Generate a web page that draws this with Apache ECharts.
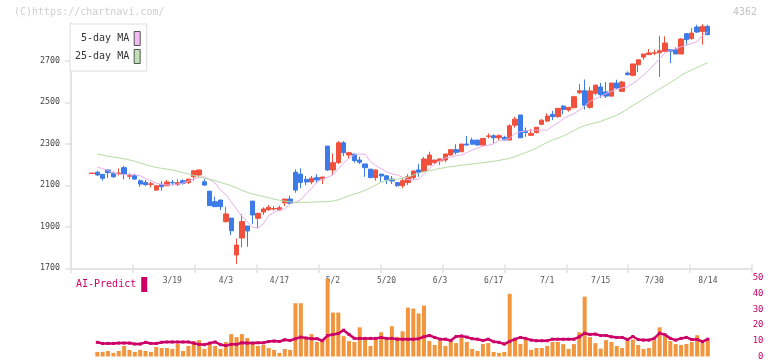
<!DOCTYPE html>
<html>
<head>
<meta charset="utf-8">
<script src="https://cdn.jsdelivr.net/npm/echarts@6.0.0/dist/echarts.min.js"></script>
<style>
html,body{margin:0;padding:0;background:#fff;}
#chart{width:772px;height:361px;}
</style>
</head>
<body>
<div id="chart"></div>
<script>
// ---- data ----
const categories = ['2/26','2/27','2/28','3/3','3/4','3/5','3/6','3/7','3/10','3/11','3/12','3/13','3/14','3/17','3/18','3/19','3/21','3/24','3/25','3/26','3/27','3/28','3/31','4/1','4/2','4/3','4/4','4/7','4/8','4/9','4/10','4/11','4/14','4/15','4/16','4/17','4/18','4/21','4/22','4/23','4/24','4/25','4/28','4/30','5/1','5/2','5/7','5/8','5/9','5/12','5/13','5/14','5/15','5/16','5/19','5/20','5/21','5/22','5/23','5/26','5/27','5/28','5/29','5/30','6/2','6/3','6/4','6/5','6/6','6/9','6/10','6/11','6/12','6/13','6/16','6/17','6/18','6/19','6/20','6/23','6/24','6/25','6/26','6/27','6/30','7/1','7/2','7/3','7/4','7/7','7/8','7/9','7/10','7/11','7/14','7/15','7/16','7/17','7/18','7/22','7/23','7/24','7/25','7/28','7/29','7/30','7/31','8/1','8/4','8/5','8/6','8/7','8/8','8/12','8/13','8/14'];
const dateLabels = ['3/19','4/3','4/17','5/2','5/20','6/3','6/17','7/1','7/15','7/30','8/14'];
const priceTicks = [1700,1900,2100,2300,2500,2700];

const openP = [2157,2163,2153,2174,2158,2157,2185,2144,2146,2122, 2114,2105,2077,2105,2098,2114,2103,2122,2113,2141, 2150,2117,2072,2021,2029,1925,1942,1764,1846,1904, 2024,1941,1971,1982,1986,1981,2016,2034,2163,2154, 2129,2116,2137,2130,2289,2174,2209,2305,2246,2251, 2222,2203,2178,2137,2154,2146,2130,2113,2098,2113, 2137,2174,2166,2198,2209,2217,2222,2246,2272,2262, 2299,2318,2318,2294,2336,2339,2329,2331,2318,2390, 2439,2362,2341,2354,2394,2410,2442,2431,2482,2463, 2474,2546,2556,2476,2544,2574,2550,2530,2593,2553, 2641,2630,2681,2718,2730,2737,2739,2746,2754,2754, 2733,2831,2807,2863,2842,2866];
const closeP = [2159,2150,2134,2161,2141,2159,2155,2146,2130,2106, 2103,2107,2098,2093,2116,2112,2113,2110,2130,2170, 2174,2101,2002,1997,1997,1962,1881,1812,1925,1880, 1957,1965,1986,1994,1988,1992,2034,2013,2077,2114, 2116,2134,2126,2140,2174,2209,2305,2257,2257,2219, 2211,2185,2137,2174,2145,2126,2121,2098,2122,2141, 2169,2163,2227,2246,2222,2227,2251,2272,2259,2299, 2294,2298,2294,2326,2338,2329,2339,2318,2387,2419, 2329,2355,2350,2380,2414,2434,2431,2471,2466,2476, 2527,2556,2486,2555,2583,2537,2530,2593,2569,2598, 2633,2685,2705,2733,2738,2739,2749,2786,2746,2733, 2805,2802,2834,2839,2866,2826];
const lowP = [2157,2145,2122,2135,2135,2147,2129,2130,2126,2093, 2097,2090,2073,2074,2097,2101,2097,2103,2106,2122, 2138,2098,2002,1997,1981,1920,1860,1721,1801,1804, 1913,1893,1957,1978,1978,1978,2000,2010,2064,2086, 2101,2105,2110,2106,2169,2150,2203,2241,2230,2209, 2203,2141,2137,2122,2117,2106,2106,2093,2086,2101, 2126,2141,2166,2198,2203,2198,2211,2243,2249,2259, 2294,2298,2294,2294,2326,2302,2318,2318,2318,2378, 2329,2334,2338,2350,2390,2404,2414,2426,2443,2455, 2471,2540,2465,2469,2534,2521,2521,2530,2565,2550, 2630,2625,2646,2705,2728,2727,2622,2746,2689,2733, 2733,2778,2802,2834,2778,2826];
const highP = [2159,2170,2153,2178,2167,2182,2193,2158,2154,2129, 2126,2117,2101,2121,2126,2126,2129,2129,2130,2170, 2174,2130,2072,2045,2029,1997,1942,1843,1960,1904, 2024,1968,1994,2005,2000,2002,2034,2050,2177,2182, 2145,2145,2154,2140,2289,2254,2313,2313,2262,2251, 2238,2203,2178,2177,2154,2146,2145,2113,2134,2154, 2169,2203,2237,2262,2222,2230,2251,2275,2298,2299, 2338,2329,2318,2326,2350,2346,2346,2339,2394,2431, 2439,2378,2371,2380,2419,2447,2459,2471,2487,2476, 2532,2588,2610,2575,2585,2593,2598,2593,2609,2604, 2649,2685,2705,2733,2757,2754,2821,2818,2754,2765, 2809,2834,2858,2874,2877,2874];

const ma5 = [null, 2188,2180,2172,2160,2153,2152,2153,2152,2146,2133, 2122,2110,2104,2102,2101,2106,2111,2120,2130,2137, 2141,2128,2110,2077,2055,2020,1985,1950,1925,1898, 1894,1915,1955,1970,1982,1987,2010,2020,2030,2060, 2085,2115,2130,2138,2150,2180,2208,2230,2248,2250, 2250,2215,2195,2180,2165,2155,2150,2138,2127,2126, 2130,2155,2180,2203,2218,2232,2236,2242,2246,2258, 2270,2280,2288,2293,2300,2316,2320,2326,2350,2358, 2362,2366,2366,2366,2366,2385,2400,2420,2435,2445, 2462,2482,2505,2518,2528,2542,2553,2563,2570,2575, 2590,2610,2632,2656,2682,2710,2738,2750,2758,2768, 2775,2784,2793,2822,2840];
const ma25 = [null, 2250,2246,2240,2236,2232,2228,2222,2216,2208,2200, 2192,2186,2182,2178,2174,2168,2161,2155,2148,2141, 2135,2129,2122,2114,2106,2098,2088,2076,2066,2058, 2052,2046,2040,2033,2028,2024,2020,2018,2018,2018, 2019,2020,2021,2022,2024,2030,2040,2050,2058,2066, 2076,2088,2102,2115,2124,2128,2130,2134,2140,2150, 2158,2166,2170,2176,2181,2186,2190,2193,2197,2200, 2203,2206,2209,2212,2216,2220,2225,2230,2238,2248, 2258,2268,2280,2294,2306,2318,2328,2338,2350,2364, 2378,2388,2395,2402,2408,2418,2428,2438,2452,2468, 2484,2500,2516,2532,2548,2564,2580,2596,2612,2630, 2644,2656,2668,2680,2691];

const volume = [null, 2.9,2.9,3.5,2.3,3.5,6.7,4.2,2.9,4.2,3.5, 2.9,6.0,5.4,5.4,4.8,7.9,3.5,6.7,9.8,10.4, 4.8,7.9,6.7,4.8,9.2,14.2,12.3,14.2,11.7,7.9, 6.7,7.3,5.4,4.2,2.3,4.8,4.2,33.8,33.8,11.0, 14.2,9.2,11.0,49.2,27.9,27.9,12.9,9.8,9.2,18.5, 11.0,6.7,11.0,15.4,11.0,19.2,12.5,16.0,31.0,30.4, 27.3,32.3,9.8,7.3,10.0,6.7,9.8,8.5,12.0,9.2, 4.8,3.5,7.9,8.5,2.9,2.3,2.9,39.8,11.0,7.9, 11.5,4.2,5.4,5.4,6.7,9.2,9.2,7.9,4.8,7.9, 15.4,38.0,12.3,8.5,5.0,10.4,9.2,6.7,5.4,10.4, 10.8,7.3,4.8,5.4,10.4,18.5,12.9,9.8,7.9,7.3, 7.9,9.2,13.5,8.5,10.4];
const aiPredict = [null, 9.0,8.3,8.3,8.3,8.5,8.5,8.5,7.9,7.9,9.0, 8.3,8.3,9.0,9.2,9.2,9.2,9.2,9.2,8.5,7.7, 7.5,8.5,9.2,7.5,7.0,7.7,7.7,8.7,8.5,8.5, 8.7,8.7,9.5,9.8,9.5,10.6,10.2,11.3,12.3,11.7, 11.3,11.3,10.0,13.3,14.0,14.6,16.7,14.0,11.5,11.5, 11.5,11.5,11.5,12.0,11.5,11.5,11,11,11,11, 11.3,12.5,13.3,12.1,11,11,10.2,12.7,13.0,12.3, 11.3,11,10.2,11,9.4,9.0,7.9,9.6,11.0,12.1, 11.5,10.4,10,10,10,11,11,11,11,11, 12.5,14.8,14.0,14.2,13.3,13.3,12.5,12.1,12.1,10.8, 12.7,10.8,10.4,10.4,11.5,14.8,13.8,11.5,10.4,11.5, 12.1,10.8,10.8,9.4,11.0];

// ---- chart ----
const MONO = '"DejaVu Sans Mono", "Liberation Mono", monospace';
const UP = '#f0503c', DOWN = '#3c7be8';
const AXIS = '#e2e2e2';
const labelSet = new Set(dateLabels);
const candles = categories.map((c, i) => [openP[i], closeP[i], lowP[i], highP[i]]);

const chart = echarts.init(document.getElementById('chart'), null, {renderer: 'canvas'});
chart.setOption({
  animation: false,
  backgroundColor: '#fff',
  title: [
    {text: '(C)https://chartnavi.com/', left: 14, top: 7, padding: 0,
     textStyle: {fontFamily: MONO, fontSize: 10, fontWeight: 'normal', color: '#cfcfcf'}},
    {text: '4362', right: 15, top: 7, padding: 0,
     textStyle: {fontFamily: MONO, fontSize: 10, fontWeight: 'normal', color: '#c4c4c4'}}
  ],
  legend: [
    {
      left: 70, top: 24, orient: 'vertical', align: 'right',
      itemWidth: 6, itemHeight: 14, itemGap: 3,
      padding: [7, 6, 7, 5],
      borderColor: '#dddddd', borderWidth: 1, backgroundColor: '#fff',
      selectedMode: false, icon: 'rect',
      formatter: n => n.padStart(9, ' '),
      textStyle: {fontFamily: MONO, fontSize: 10, color: '#333'},
      data: [
        {name: '5-day MA', itemStyle: {color: '#f2bcf2', borderColor: '#555', borderWidth: 1}},
        {name: '25-day MA', itemStyle: {color: '#bfe0b4', borderColor: '#555', borderWidth: 1}}
      ]
    },
    {
      left: 76, top: 277, orient: 'horizontal', align: 'right',
      itemWidth: 6, itemHeight: 15, padding: 0, selectedMode: false, icon: 'rect',
      textStyle: {fontFamily: MONO, fontSize: 10, color: '#cc0066'},
      data: [{name: 'AI-Predict', itemStyle: {color: '#cc0066'}}]
    }
  ],
  grid: [
    {left: 71, right: 20, top: 23.5, bottom: 92.7},
    {left: 89.3, right: 61.5, top: 23.5, bottom: 92.7},
    {left: 89.3, right: 61.5, top: 277.7, bottom: 3.3}
  ],
  xAxis: [
    {gridIndex: 0, type: 'value', position: 'bottom', min: 0, max: 11, interval: 1,
     axisLine: {show: true, onZero: false, lineStyle: {color: AXIS, width: 2}},
     axisTick: {show: true, length: 5, lineStyle: {color: AXIS, width: 1.5}},
     axisLabel: {show: false}, splitLine: {show: false}},
    {gridIndex: 0, type: 'value', position: 'bottom', min: 0, max: 11, interval: 1,
     axisLine: {show: false, onZero: false},
     axisTick: {show: true, inside: true, length: 4, lineStyle: {color: AXIS, width: 1.5}},
     axisLabel: {show: false}, splitLine: {show: false}},
    {gridIndex: 1, type: 'category', position: 'bottom', data: categories, boundaryGap: true,
     axisLine: {show: false}, axisTick: {show: false}, splitLine: {show: false},
     axisLabel: {show: true, interval: (i, v) => labelSet.has(v), margin: 9,
       fontFamily: MONO, fontSize: 8, color: '#555'}},
    {gridIndex: 2, type: 'category', position: 'bottom', data: categories, boundaryGap: true, show: false}
  ],
  yAxis: [
    {gridIndex: 0, type: 'value', min: 1700, max: 2880,
     axisLine: {show: true, onZero: false, lineStyle: {color: AXIS, width: 2}},
     axisTick: {show: true, length: 6, customValues: priceTicks, lineStyle: {color: AXIS, width: 1.5}},
     axisLabel: {show: true, customValues: priceTicks, formatter: v => String(v), margin: 11,
       fontFamily: MONO, fontSize: 8.3, color: '#444'},
     splitLine: {show: false}},
    {gridIndex: 1, type: 'value', min: 1700, max: 2880, show: false, splitLine: {show: false}},
    {gridIndex: 2, type: 'value', min: 0, max: 50, interval: 10, position: 'right', offset: 41.5,
     axisLine: {show: false}, axisTick: {show: false}, splitLine: {show: false},
     axisLabel: {show: true, align: 'right', margin: 11.5, fontFamily: MONO, fontSize: 9, color: '#cc0066'}}
  ],
  series: [
    {name: 'price', type: 'candlestick', xAxisIndex: 2, yAxisIndex: 1, data: candles, barWidth: 4.8,
     itemStyle: {color: UP, color0: DOWN, borderColor: UP, borderColor0: DOWN, borderWidth: 1}, z: 2},
    {name: '5-day MA', type: 'line', xAxisIndex: 2, yAxisIndex: 1, data: ma5, symbol: 'none',
     lineStyle: {color: '#e8aee8', width: 1}, itemStyle: {color: '#f2bcf2'}, z: 3},
    {name: '25-day MA', type: 'line', xAxisIndex: 2, yAxisIndex: 1, data: ma25, symbol: 'none',
     lineStyle: {color: '#b4dca4', width: 1}, itemStyle: {color: '#bfe0b4'}, z: 3},
    {name: 'volume', type: 'bar', xAxisIndex: 3, yAxisIndex: 2, data: volume, barWidth: 4,
     itemStyle: {color: '#f2963e'}, z: 2},
    {name: 'AI-Predict', type: 'line', xAxisIndex: 3, yAxisIndex: 2, data: aiPredict,
     symbol: 'rect', symbolSize: 3, showSymbol: true,
     lineStyle: {color: '#cc0066', width: 2.5}, itemStyle: {color: '#cc0066'}, z: 4}
  ]
});
</script>
</body>
</html>
